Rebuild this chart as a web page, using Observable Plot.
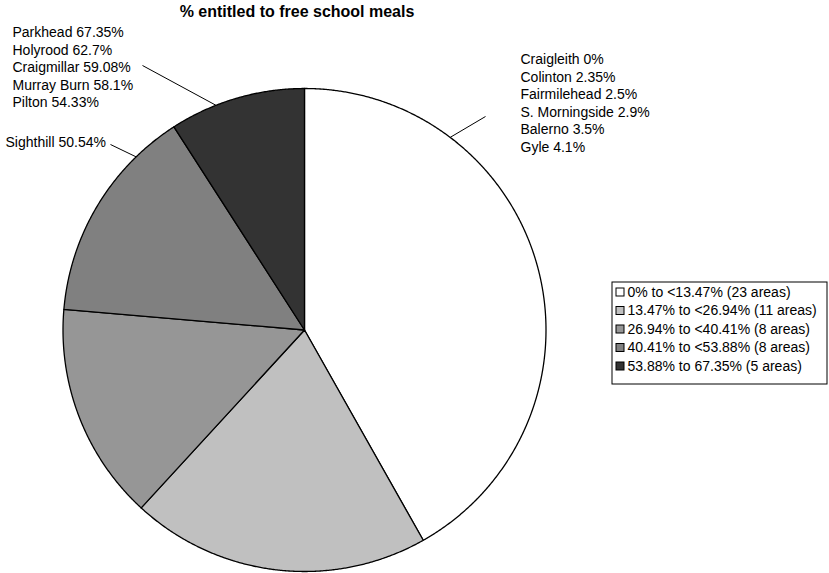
<!DOCTYPE html>
<html><head><meta charset="utf-8">
<script src="https://cdn.jsdelivr.net/npm/d3@7"></script>
<script src="https://cdn.jsdelivr.net/npm/@observablehq/plot@0.6"></script>
<style>
body{margin:0;background:#fff;font-family:"Liberation Sans",Arial,sans-serif;}
#title{height:22px;width:594px;text-align:center;font-weight:bold;font-size:16px;line-height:24px;color:#000;}
#chart svg{display:block;}
</style></head><body>
<div id="title">% entitled to free school meals</div>
<div id="chart"></div>
<script>
// ---- data ----
const bands = ["0% to <13.47%", "13.47% to <26.94%", "26.94% to <40.41%", "40.41% to <53.88%", "53.88% to 67.35%"];
const areaCounts = [23, 11, 8, 8, 5];
const shades = ["#ffffff", "#c0c0c0", "#969696", "#808080", "#333333"];
const lowestAreas = ["Craigleith 0%", "Colinton 2.35%", "Fairmilehead 2.5%", "S. Morningside 2.9%", "Balerno 3.5%", "Gyle 4.1%"];
const highestAreas = ["Parkhead 67.35%", "Holyrood 62.7%", "Craigmillar 59.08%", "Murray Burn 58.1%", "Pilton 54.33%"];
const nextAreas = ["Sighthill 50.54%"];

// ---- layout ----
const W = 829, H = 551, top0 = 22;
const cx = 304, cy = 329.5, r = 241.5;
const lineGap = 17.6;
const legendLabels = bands.map((b, i) => `${b} (${areaCounts[i]} areas)`);

const pie = d3.pie().sort(null)(areaCounts);
const slicePts = [];
pie.forEach((p, i) => {
  const band = legendLabels[i];
  slicePts.push({band, x: cx, y: cy});
  const n = Math.max(2, Math.ceil((p.endAngle - p.startAngle) / 0.005));
  for (let k = 0; k <= n; k++) {
    const a = p.startAngle + (p.endAngle - p.startAngle) * k / n;
    slicePts.push({band, x: cx + r * Math.sin(a), y: cy - r * Math.cos(a)});
  }
  slicePts.push({band, x: cx, y: cy});
});

// callouts: angle (deg, clockwise from top) where leader meets the pie, leader end, text block
const callouts = [
  {names: lowestAreas, ang: 37.1, ex: 485, ey: 116, tx: 520, ty: 59, anchor: "start"},
  {names: highestAreas, ang: -21.5, ex: 142, ey: 65, tx: 12, ty: 32, anchor: "start"},
  {names: nextAreas, ang: -44.2, ex: 110, ey: 144, tx: 5, ty: 142, anchor: "start"}
];
const leaders = callouts.map(c => {
  const a = c.ang * Math.PI / 180;
  return {x1: cx + r * Math.sin(a), y1: cy - r * Math.cos(a), x2: c.ex, y2: c.ey};
});
const calloutText = callouts.flatMap(c => c.names.map((t, i) => ({text: t, x: c.tx, y: c.ty + i * lineGap})));

const lg = {x: 612, y: 282, w: 215, h: 102, row0: 292, step: 18.5, sw: 8};
const legendRows = legendLabels.map((t, i) => ({t, y: lg.row0 + i * lg.step}));

const chart = Plot.plot({
  width: W, height: H,
  margin: 0,
  x: {domain: [0, W], axis: null},
  y: {domain: [top0 + H, top0], axis: null},
  color: {type: "ordinal", domain: legendLabels, range: shades},
  style: {fontFamily: "'Liberation Sans', Arial, sans-serif", background: "#fff"},
  marks: [
    Plot.line(slicePts, {x: "x", y: "y", z: "band", fill: "band", stroke: "#000", strokeWidth: 1.3, strokeLinejoin: "round", curve: "linear"}),
    Plot.link(leaders, {x1: "x1", y1: "y1", x2: "x2", y2: "y2", stroke: "#000", strokeWidth: 1}),
    Plot.text(calloutText, {x: "x", y: "y", text: "text", textAnchor: "start", fontSize: 14, fill: "#000"}),
    Plot.rect([lg], {x1: d => d.x, x2: d => d.x + d.w, y1: d => d.y, y2: d => d.y + d.h, fill: "#fff", stroke: "#000", strokeWidth: 1}),
    Plot.rect(legendRows, {x1: lg.x + 4, x2: lg.x + 4 + lg.sw, y1: d => d.y - lg.sw / 2, y2: d => d.y + lg.sw / 2, fill: "t", stroke: "#000", strokeWidth: 1}),
    Plot.text(legendRows, {x: lg.x + 15, y: "y", text: "t", textAnchor: "start", fontSize: 14, fill: "#000"})
  ]
});
document.getElementById("chart").appendChild(chart);
</script>
</body></html>
